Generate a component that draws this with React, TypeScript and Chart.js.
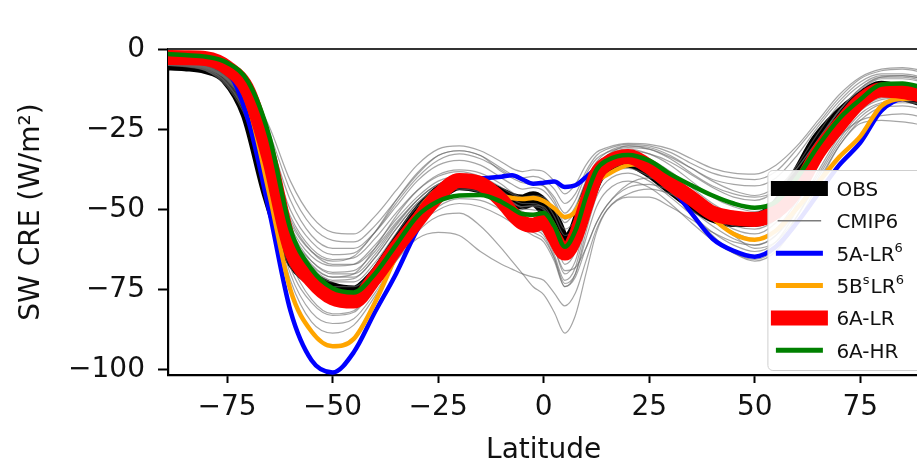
import React, { useEffect, useRef } from "react";
import { Chart, registerables } from "chart.js";

Chart.register(...registerables);

// Zonal-mean shortwave cloud radiative effect (W/m²) against latitude.
const LATITUDES = [
  -90, -85, -80, -75, -70, -65, -60, -55, -50, -45, -40, -35, -30, -25, -20, -15, -10,
  -7.5, -5, -2.5, 0, 2.5, 5, 7.5, 10, 12.5, 15,
  20, 25, 30, 35, 40, 45, 50, 55, 60, 65, 70, 75, 80, 85, 90,
];

const OBS = [
  -4, -4.3, -5.2, -8.5, -20, -45, -64, -71.5, -75, -76, -71, -61.5, -52, -45, -41.5, -42.5, -45.5,
  -47, -47.5, -46.5, -49, -54, -60.5, -57, -47.5, -39.5, -36,
  -34.5, -37.5, -42.5, -47.5, -51.5, -53, -53, -49.5, -40, -28.5, -21, -15.5, -12, -13.5, -15.5,
];

const MODEL_5A_LR = [
  -3, -3.3, -4.2, -6.5, -22, -50.5, -81.5, -97, -100.8, -94.5, -82, -70, -56.3, -45.8, -40.6, -40.1, -39.6,
  -39.2, -40.5, -41.8, -41.5, -41.1, -42.8, -42.3, -39.8, -37, -34.5,
  -32.5, -35, -42.5, -51, -59, -62.8, -64.6, -61.5, -54, -45, -36, -29, -19, -15.3, -15.1,
];

const MODEL_5B_LR = [
  -2.6, -2.9, -3.6, -6.5, -17, -45, -75, -88, -92.6, -90.3, -79, -64.5, -51, -43.5, -41, -42.5, -45.5,
  -46.3, -46.6, -46.3, -47.2, -49.5, -52.2, -50.5, -44.5, -41, -39,
  -36, -35.6, -39.5, -45, -52.5, -57.5, -59.3, -56.5, -49.5, -41.5, -33.5, -27, -17.5, -15.3, -15.1,
];

const MODEL_6A_LR = [
  -2.3, -2.4, -2.7, -5.5, -13, -34, -62, -72, -77.5, -78.5, -71.2, -62, -53.5, -45.5, -40.8, -41.8, -47,
  -51, -54, -54.8, -53.6, -58.5, -63.5, -58.5, -48.5, -39, -35.5,
  -33.3, -36.5, -41.7, -46.3, -51, -52.5, -53, -50.5, -43.5, -32, -23.5, -16, -12.5, -13, -14.2,
];

const MODEL_6A_HR = [
  -1.2, -1.6, -2.1, -4, -10, -27, -56, -68.5, -74.5, -75.8, -70, -61, -52, -47.3, -45.5, -45.3, -47.5,
  -49.5, -51.3, -51.5, -51, -55, -61.5, -56.5, -46, -37.5, -34.5,
  -32.8, -34.6, -38.8, -42.3, -45.5, -48, -49.3, -47.5, -40, -30, -21.5, -15.5, -10.8, -10.5, -11.8,
];

// CMIP6 ensemble members
const CMIP6_M01 = [
  -3.5, -3.8, -4.5, -7, -12, -24, -41, -52, -57, -57.5, -52, -44, -36, -31, -30, -31.5, -35,
  -37, -38, -37.5, -38, -41, -45, -42, -36, -32, -30.5,
  -29.2, -29.5, -31, -34, -37, -38.5, -38.8, -36, -30, -22, -14, -8.5, -6, -5.5, -6.5,
];
const CMIP6_M02 = [
  -3.8, -4, -4.8, -7.5, -13, -26, -44, -55, -59.5, -60, -55, -47, -39, -33, -31.5, -33, -38,
  -40, -41.5, -42, -42.5, -46, -51, -47, -39, -34, -32,
  -30.5, -31, -33.5, -37, -40.5, -42, -42.5, -40, -33, -24, -16, -10, -7.5, -7.5, -8.5,
];
const CMIP6_M03 = [
  -3.6, -4, -4.8, -7.8, -14, -28, -47, -58, -62, -62, -57, -49, -41, -36, -34.5, -36, -40,
  -42, -43.5, -43, -44, -48, -54, -50, -42, -36, -33,
  -31.5, -32.5, -35, -39, -43, -46, -47, -44, -36, -26, -17, -11, -8, -8, -9,
];
const CMIP6_M04 = [
  -4, -4.3, -5.2, -8.5, -16, -33, -52, -62, -65.5, -65, -59, -51, -44, -39.5, -38, -39.5, -43,
  -45, -46.5, -46, -47, -52, -58, -55, -45, -37, -33,
  -31, -32.5, -36, -41, -46, -49, -50.5, -48, -40, -29, -19, -12.5, -9, -9, -10,
];
const CMIP6_M05 = [
  -4.2, -4.5, -5.5, -9, -17, -35, -55, -64.5, -67.5, -67, -61, -53, -46, -41, -39.5, -40.5, -44,
  -46.5, -48, -48, -49.5, -55, -62, -58, -47, -38.5, -34.5,
  -32.5, -34, -38, -43, -48, -51.5, -53, -50, -42, -31, -21, -14, -10.5, -10.5, -11.5,
];
const CMIP6_M06 = [
  -4, -4.4, -5.3, -8.8, -17.5, -36, -57, -66, -69.5, -69, -63, -54.5, -47, -42, -40.5, -41.5, -45,
  -47.5, -49.5, -50, -51, -57, -65, -61, -49, -40, -36,
  -34, -36, -40, -45, -50, -53.5, -55, -52, -44, -33, -23, -15.5, -12, -11.5, -12.5,
];
const CMIP6_M07 = [
  -4.3, -4.6, -5.6, -9.2, -18, -37, -58, -67.5, -71, -71, -65, -56, -48, -43, -41, -42, -46,
  -48.5, -50.5, -51.5, -53, -59, -67, -63, -51, -41.5, -37,
  -35, -37.5, -42, -47, -52, -56, -57.5, -54, -45, -34, -24, -16.5, -13, -12.5, -13.5,
];
const CMIP6_M08 = [
  -4.1, -4.5, -5.4, -9, -18.5, -38, -59, -68.5, -72.5, -72.5, -66.5, -57.5, -49, -43.5, -42, -43, -47,
  -50, -52.5, -53.5, -55, -62, -70, -66, -53, -43, -38,
  -36, -38.5, -43, -48, -53, -57, -59, -56, -47, -35, -25, -17.5, -14, -13.5, -14.5,
];
const CMIP6_M09 = [
  -4.4, -4.7, -5.8, -9.5, -19, -39, -60, -69.5, -74, -74, -68, -59, -50.5, -45, -43, -44, -48,
  -51, -53.5, -55, -57, -64, -72, -68, -55, -44, -39,
  -37, -39.5, -44.5, -50, -55, -59, -61, -58, -48, -36, -26, -18.5, -15, -14.5, -15.5,
];
const CMIP6_M10 = [
  -4.2, -4.6, -5.6, -9.3, -18, -37, -57, -67, -71, -70, -62, -52, -44, -39, -37.5, -38.5, -42,
  -44.5, -46, -45.5, -46, -50, -56, -53, -44, -36.5, -33,
  -30, -30.5, -33, -37, -41, -44, -45.5, -43, -37, -28, -19, -12, -8.5, -8.5, -9.5,
];
const CMIP6_M11 = [
  -4.5, -4.8, -6, -10, -20, -41, -61, -70, -75, -75.5, -69, -60, -51, -45.5, -43.5, -44.5, -48.5,
  -51.5, -54.5, -56, -58, -65, -74, -70, -57, -46, -41,
  -38.5, -41, -46, -51.5, -57, -61, -63, -60, -50, -38, -27, -19, -15.5, -15, -16,
];
const CMIP6_M12 = [
  -3.9, -4.2, -5.1, -8.4, -16.5, -34, -53, -63, -67, -67, -62, -54, -47, -42, -40.5, -42, -46,
  -48, -49, -48.5, -49, -54, -61, -58, -48, -40, -36.5,
  -34.5, -35.5, -39, -44, -49, -52, -53.5, -51, -43, -32, -22, -14.5, -11, -10.5, -11.5,
];
const CMIP6_M13 = [
  -4.6, -5, -6.2, -10.5, -21, -43, -66, -78, -82.5, -81.5, -74, -64, -55, -49, -46.5, -47, -50,
  -52.5, -55, -57, -59, -65, -73, -70, -59, -49, -44,
  -41, -43, -48, -54, -59.5, -63.5, -65.5, -62, -52, -40, -29, -21, -17, -16.5, -17,
];
const CMIP6_M14 = [
  -4.8, -5.2, -6.5, -11, -22, -45, -70, -82, -85.5, -84, -76, -66, -59, -57, -58, -63, -67,
  -68.5, -70, -71, -72, -76, -80, -76, -66, -56, -50,
  -46, -46, -49, -53, -57, -60, -61, -58, -50, -39, -28, -20, -16.5, -16, -17,
];
const CMIP6_M15 = [
  -4.7, -5.1, -6.4, -11.5, -23, -47, -72, -85, -88.5, -86, -77, -66, -57, -52, -51, -55, -62,
  -66, -70, -74, -76.5, -82, -88.5, -83, -70, -57, -50,
  -45, -43.5, -45, -48.5, -52, -55, -56, -53, -45, -35, -27, -22, -20.5, -20, -21,
];
const CMIP6_M16 = [
  -4.5, -4.9, -6, -10.5, -21.5, -44, -68, -79, -83, -82, -74, -64, -55, -50, -48, -49, -52,
  -54, -56, -58, -60, -66, -74, -71, -62, -54, -48.5,
  -43, -42, -44, -48, -53, -58, -62, -60, -52, -41, -30, -23, -22, -22.5, -23.5,
];
const CMIP6_M17 = [
  -4, -4.4, -5.4, -9, -18, -36, -56, -66, -70, -70, -64, -55, -47, -42, -40, -41, -45,
  -47.5, -49, -49, -50, -55, -62, -59, -49, -40, -36,
  -35, -38, -44, -51, -58, -63.5, -66, -63, -54, -42, -30, -22, -18, -17.5, -18.5,
];
const CMIP6_M18 = [
  -4.3, -4.7, -5.7, -9.5, -19, -39, -59, -68, -72, -71.5, -65, -56, -48, -43, -41.5, -43, -47.5,
  -50.5, -53, -55, -57, -62, -69, -68, -62, -54, -48.5,
  -42, -40, -41.5, -45, -49, -52, -53, -50, -43, -33, -23, -15, -11, -10.5, -11.5,
];
const CMIP6_M19 = [
  -3.7, -4, -4.9, -8, -15, -31, -50, -60, -64, -63.5, -57, -48, -40, -34.5, -32.5, -34, -37.5,
  -39.5, -40, -39.5, -40.5, -43.5, -48, -45, -38, -33, -31,
  -29.5, -30, -32, -35.5, -38.5, -40, -40.5, -38, -31, -23, -15, -9, -6.5, -6, -7,
];
const CMIP6_M20 = [
  -4, -4.3, -5.2, -8.8, -17, -35, -54, -63, -66, -64.5, -57, -47, -38.5, -33, -31.5, -33, -37,
  -39, -41, -41.5, -42.5, -47, -53, -49, -41, -35, -32,
  -30, -31, -34, -38.5, -42.5, -45, -46, -44, -37, -28, -19, -12, -8.5, -8, -9,
];

const CMIP6_ENSEMBLE = [
  CMIP6_M01, CMIP6_M02, CMIP6_M03, CMIP6_M04, CMIP6_M05, CMIP6_M06, CMIP6_M07,
  CMIP6_M08, CMIP6_M09, CMIP6_M10, CMIP6_M11, CMIP6_M12, CMIP6_M13, CMIP6_M14,
  CMIP6_M15, CMIP6_M16, CMIP6_M17, CMIP6_M18, CMIP6_M19, CMIP6_M20,
];

const X_TICKS = [-75, -50, -25, 0, 25, 50, 75];
const Y_TICKS = [-100, -75, -50, -25, 0];

const FONT = "'DejaVu Sans', 'Liberation Sans', sans-serif";
const TEXT_COLOR = "#111111";
const CMIP6_COLOR = "rgba(105,105,105,0.6)";

// Legend rows: label pieces ([text, isSuperscript]) with the line style of each series
const LEGEND_ROWS: { parts: [string, boolean][]; color: string; width: number }[] = [
  { parts: [["OBS", false]], color: "#000000", width: 15 },
  { parts: [["CMIP6", false]], color: "rgba(110,110,110,0.9)", width: 1.5 },
  { parts: [["5A-LR", false], ["6", true]], color: "#0000ff", width: 5 },
  { parts: [["5B", false], ["s", true], ["LR", false], ["6", true]], color: "#ffa500", width: 5 },
  { parts: [["6A-LR", false]], color: "#ff0000", width: 15 },
  { parts: [["6A-HR", false]], color: "#008000", width: 5 },
];

const minusSign = (v: number) => (v < 0 ? "\u2212" + Math.abs(v) : String(v));

const series = (values: number[]) => LATITUDES.map((x, i) => ({ x, y: values[i] }));

const frameAndLegend = {
  id: "frameAndLegend",
  afterDatasetsDraw(chart: any) {
    const { ctx, chartArea } = chart;
    ctx.save();
    ctx.strokeStyle = "#333333";
    ctx.lineWidth = 1.8;
    ctx.beginPath();
    ctx.moveTo(chartArea.left, chartArea.top);
    ctx.lineTo(chartArea.right, chartArea.top);
    ctx.stroke();
    ctx.restore();
  },
  afterDraw(chart: any) {
    const { ctx, chartArea } = chart;
    const boxLeft = chartArea.right - 152;
    const boxTop = chartArea.top + 121;
    const boxW = 200;
    const boxH = 200;
    ctx.save();
    ctx.beginPath();
    ctx.roundRect(boxLeft + 0.5, boxTop + 0.5, boxW, boxH, 5);
    ctx.fillStyle = "rgba(255,255,255,0.9)";
    ctx.fill();
    ctx.strokeStyle = "#cfcfcf";
    ctx.lineWidth = 1;
    ctx.stroke();

    LEGEND_ROWS.forEach((row, i) => {
      const cy = boxTop + 18.5 + i * 32.35;
      ctx.beginPath();
      ctx.strokeStyle = row.color;
      ctx.lineWidth = row.width;
      ctx.lineCap = "square";
      ctx.moveTo(boxLeft + 11, cy);
      ctx.lineTo(boxLeft + 53, cy);
      ctx.stroke();

      let x = boxLeft + 69;
      const baseline = cy + 7.5;
      ctx.fillStyle = TEXT_COLOR;
      ctx.textBaseline = "alphabetic";
      ctx.textAlign = "left";
      row.parts.forEach(([txt, sup]) => {
        ctx.font = sup ? `13px ${FONT}` : `20px ${FONT}`;
        ctx.fillText(txt, x, sup ? baseline - 9 : baseline);
        x += ctx.measureText(txt).width + (sup ? 1 : 0);
      });
    });
    ctx.restore();
  },
};

export default function App() {
  const canvasRef = useRef<HTMLCanvasElement | null>(null);

  useEffect(() => {
    if (!canvasRef.current) return;

    const line = (label: string, values: number[], color: string, width: number, order: number) => ({
      label,
      data: series(values),
      borderColor: color,
      backgroundColor: color,
      borderWidth: width,
      pointRadius: 0,
      cubicInterpolationMode: "monotone" as const,
      borderJoinStyle: "round" as const,
      borderCapStyle: "butt" as const,
      clip: 0,
      order,
    });

    const datasets: any[] = [
      line("6A-HR", MODEL_6A_HR, "#008000", 4.5, 0),
      line("6A-LR", MODEL_6A_LR, "#ff0000", 15, 1),
      line("5B\u02E2LR\u2076", MODEL_5B_LR, "#ffa500", 4.5, 2),
      line("5A-LR\u2076", MODEL_5A_LR, "#0000ff", 4.5, 3),
      ...CMIP6_ENSEMBLE.map((m, i) => line(i === 0 ? "CMIP6" : "", m, CMIP6_COLOR, 1.2, 10 + i)),
      line("OBS", OBS, "#000000", 15, 50),
    ];

    const chart = new Chart(canvasRef.current, {
      type: "line",
      data: { datasets },
      plugins: [frameAndLegend],
      options: {
        animation: false,
        responsive: false,
        events: [],
        layout: { padding: { left: 0, top: 49, right: 5.6, bottom: 0 } },
        plugins: { legend: { display: false }, tooltip: { enabled: false } },
        scales: {
          x: {
            type: "linear",
            min: -89,
            max: 89,
            afterBuildTicks: (s: any) => {
              s.ticks = X_TICKS.map((value) => ({ value }));
            },
            afterFit: (s: any) => {
              s.height = 90;
            },
            grid: {
              display: true,
              drawOnChartArea: false,
              drawTicks: true,
              tickLength: 8,
              tickWidth: 2,
              tickColor: "#000",
            },
            border: { display: true, color: "#000", width: 2.2 },
            ticks: {
              color: TEXT_COLOR,
              font: { family: FONT, size: 28 },
              padding: 8,
              maxRotation: 0,
              callback: (v: any) => minusSign(Number(v)),
            },
            title: {
              display: true,
              text: "Latitude",
              color: TEXT_COLOR,
              font: { family: FONT, size: 28, lineHeight: 1 },
              padding: { top: 0, bottom: 0 },
            },
          },
          y: {
            type: "linear",
            min: -101.6,
            max: 0.3,
            afterBuildTicks: (s: any) => {
              s.ticks = Y_TICKS.map((value) => ({ value }));
            },
            afterFit: (s: any) => {
              s.width = 168;
            },
            grid: {
              display: true,
              drawOnChartArea: false,
              drawTicks: true,
              tickLength: 10,
              tickWidth: 2,
              tickColor: "#000",
            },
            border: { display: true, color: "#000", width: 2.2 },
            ticks: {
              color: TEXT_COLOR,
              font: { family: FONT, size: 28 },
              padding: 13,
              callback: (v: any) => minusSign(Number(v)),
            },
            title: {
              display: true,
              text: "SW CRE (W/m\u00B2)",
              color: TEXT_COLOR,
              font: { family: FONT, size: 28, lineHeight: 1 },
              padding: { top: 18, bottom: 0 },
            },
          },
        },
      },
    } as any);

    return () => chart.destroy();
  }, []);

  return (
    <div
      style={{
        position: "fixed",
        left: 0,
        top: 0,
        width: 917,
        height: 465,
        overflow: "hidden",
        background: "#ffffff",
      }}
    >
      <canvas ref={canvasRef} width={925} height={465} style={{ display: "block", width: 925, height: 465 }} />
    </div>
  );
}
